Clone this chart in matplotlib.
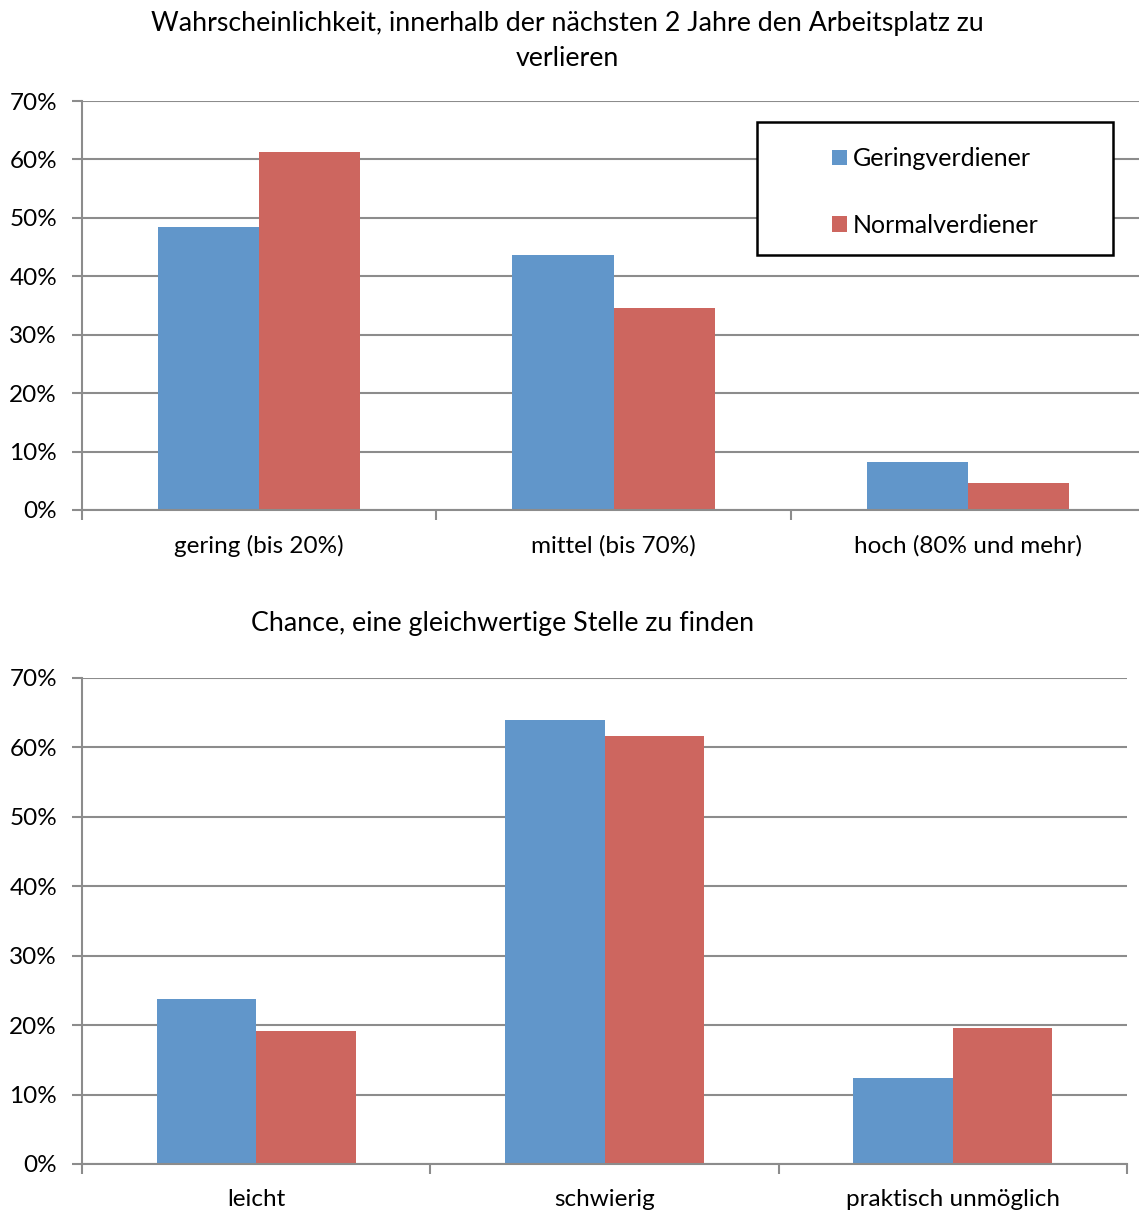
import matplotlib
matplotlib.use("Agg")
import matplotlib.pyplot as plt
from matplotlib.patches import Rectangle
import numpy as np

plt.rcParams['font.family'] = ['Lato', 'DejaVu Sans']

# Data (percent)
series_names = ["Geringverdiener", "Normalverdiener"]
colors = ["#6196CA", "#CD665F"]

loss_categories = ["gering (bis 20%)", "mittel (bis 70%)", "hoch (80% und mehr)"]
loss_gering = [48.4, 43.7, 8.2]
loss_normal = [61.3, 34.6, 4.6]

job_categories = ["leicht", "schwierig", "praktisch unmöglich"]
job_gering = [23.8, 64.0, 12.4]
job_normal = [19.2, 61.7, 19.6]

yticks = [0, 10, 20, 30, 40, 50, 60, 70]
ytick_labels = [f"{v}%" for v in yticks]

W, H = 1139, 1211
fig = plt.figure(figsize=(W / 100, H / 100), dpi=100)

GRID = "#8C8C8C"
FS_TICK = 17.5
FS_TITLE = 19.3


def px_rect(left, top, right, bottom):
    return [left / W, 1 - bottom / H, (right - left) / W, (bottom - top) / H]


def draw_panel(ax, cats, a, b):
    n = len(cats)
    x = np.arange(n)
    bw = 1 / 3.5
    ax.bar(x - bw / 2, a, width=bw, color=colors[0], label=series_names[0], zorder=3)
    ax.bar(x + bw / 2, b, width=bw, color=colors[1], label=series_names[1], zorder=3)
    ax.set_xlim(-0.5, n - 0.5)
    ax.set_ylim(0, 70)
    ax.set_yticks(yticks)
    ax.set_yticklabels(ytick_labels, fontsize=FS_TICK)
    ax.yaxis.grid(True, color=GRID, linewidth=1.5, zorder=0)
    ax.set_axisbelow(True)
    # category labels at centers, tick marks at category boundaries
    ax.set_xticks(x)
    ax.set_xticklabels(cats, fontsize=FS_TICK)
    ax.tick_params(axis='x', which='major', length=0, pad=18)
    ax.set_xticks(np.arange(-0.5, n, 1.0), minor=True)
    ax.tick_params(axis='x', which='minor', length=7, width=1.5, color=GRID)
    ax.tick_params(axis='y', length=7, width=1.5, color=GRID, pad=11)
    for s in ["top", "right"]:
        ax.spines[s].set_visible(False)
    for s in ["left", "bottom"]:
        ax.spines[s].set_color(GRID)
        ax.spines[s].set_linewidth(1.5)
    ax.spines["bottom"].set_zorder(4)


ax1 = fig.add_axes(px_rect(82, 101, 1145, 510))
draw_panel(ax1, loss_categories, loss_gering, loss_normal)

ax2 = fig.add_axes(px_rect(82, 678, 1127, 1164))
draw_panel(ax2, job_categories, job_gering, job_normal)

fig.text(567 / W, 1 - 24 / H,
         "Wahrscheinlichkeit, innerhalb der nächsten 2 Jahre den Arbeitsplatz zu",
         ha="center", va="center", fontsize=FS_TITLE)
fig.text(567 / W, 1 - 59 / H, "verlieren", ha="center", va="center", fontsize=FS_TITLE)
fig.text(503 / W, 1 - 623 / H, "Chance, eine gleichwertige Stelle zu finden",
         ha="center", va="center", fontsize=FS_TITLE)

# Legend frame and entries
lx0, ly0, lx1, ly1 = 757, 122, 1113, 255
fig.patches.append(Rectangle((lx0 / W, 1 - ly1 / H), (lx1 - lx0) / W, (ly1 - ly0) / H,
                             transform=fig.transFigure, facecolor="white",
                             edgecolor="black", linewidth=1.8, zorder=5))
handles, labels = ax1.get_legend_handles_labels()
leg = fig.legend(handles, labels, loc="center",
                 bbox_to_anchor=((lx0 + lx1) / 2 / W, 1 - (ly0 + ly1) / 2 / H - 0.003),
                 frameon=False, fontsize=FS_TICK + 0.5, handlelength=0.6, handleheight=0.6,
                 handletextpad=0.25, labelspacing=1.75)
leg.set_zorder(6)

fig.savefig("out.png", dpi=100)
